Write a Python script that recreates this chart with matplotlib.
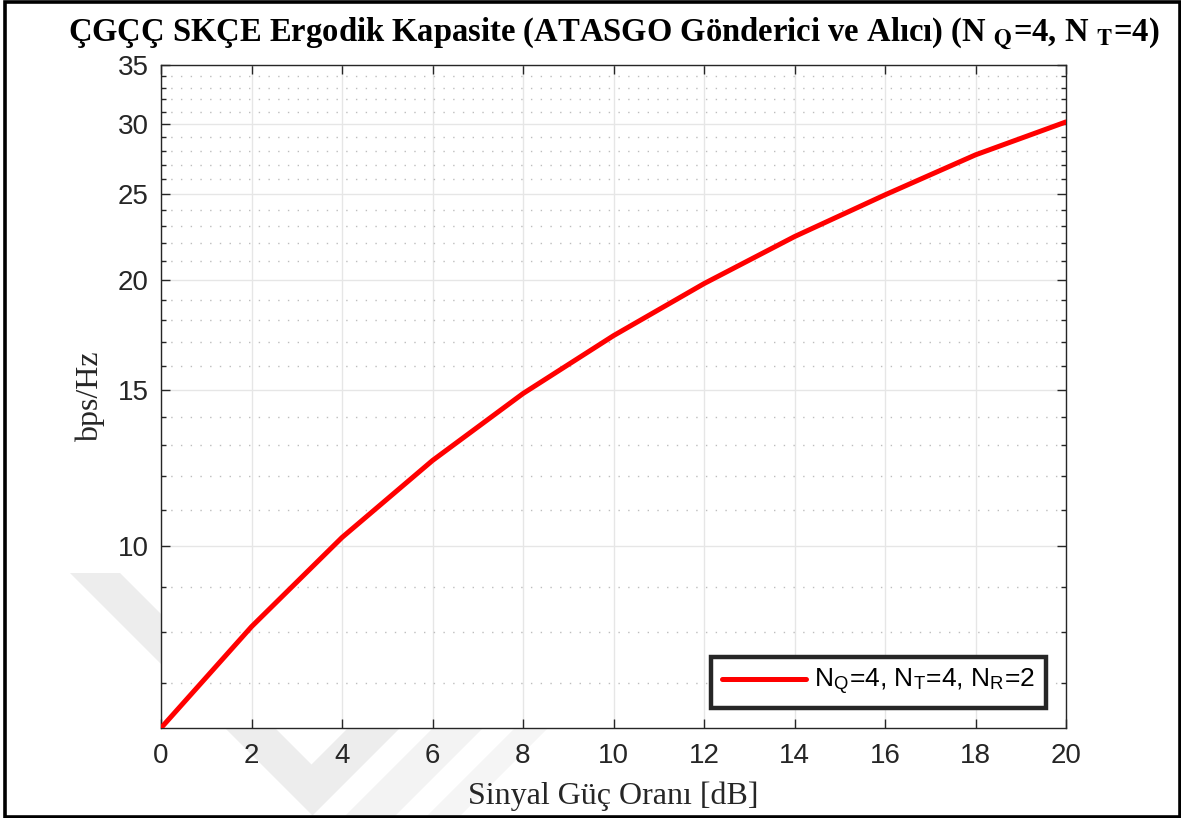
import numpy as np
import matplotlib
matplotlib.use("Agg")
import matplotlib.pyplot as plt
from matplotlib.patches import Polygon, Rectangle
from matplotlib.ticker import FixedLocator, NullFormatter, FixedFormatter

plt.rcParams['mathtext.fontset'] = 'stix'

# ergodic capacity vs SNR
snr_db = [0, 2, 4, 6, 8, 10, 12, 14, 16, 18, 20]
capacity = [6.23, 8.11, 10.23, 12.50, 14.88, 17.30, 19.81, 22.39, 24.96, 27.70, 30.18]

yticks_major = [10, 15, 20, 25, 30, 35]
yticks_minor = [7, 8, 9, 11, 12, 13, 14, 16, 17, 18, 19, 21, 22, 23, 24,
                26, 27, 28, 29, 31, 32, 33, 34]
xticks = list(range(0, 21, 2))

W, H = 1181, 818
fig = plt.figure(figsize=(W / 100, H / 100), dpi=100)
fig.patch.set_facecolor('white')


def px(x, y):
    return (x / W, 1 - y / H)


# faint watermark chevrons behind the axes
shapes = [
    ([(70, 573), (120, 573), (311.5, 764.5), (376, 700), (428, 700), (312.5, 815.5)], '#ededed'),
    ([(433, 728), (483, 728), (393, 818), (343, 818)], '#f3f3f3'),
    ([(515, 728), (548, 728), (458, 818), (425, 818)], '#f5f5f5'),
]
for pts, c in shapes:
    fig.patches.append(Polygon([px(*p) for p in pts], closed=True,
                               transform=fig.transFigure, facecolor=c,
                               edgecolor='none', zorder=-5))

ax = fig.add_axes([161 / W, 1 - 728 / H, (1066 - 161) / W, (728 - 65) / H])
ax.set_facecolor('white')

ax.semilogy(snr_db, capacity, color='#ff0000', lw=3.6, solid_capstyle='round',
            label=r'N$_\mathregular{Q}$=4, N$_\mathregular{T}$=4, N$_\mathregular{R}$=2',
            zorder=3)

ax.set_xlim(0, 20)
ax.set_ylim(capacity[0], 35)
ax.set_xticks(xticks)
ax.yaxis.set_major_locator(FixedLocator(yticks_major))
ax.yaxis.set_major_formatter(FixedFormatter([str(v) for v in yticks_major]))
ax.yaxis.set_minor_locator(FixedLocator(yticks_minor))
ax.yaxis.set_minor_formatter(NullFormatter())
ax.xaxis.set_minor_locator(FixedLocator([]))

dark = '#262626'
for s in ax.spines.values():
    s.set_color(dark)
    s.set_linewidth(1.0)
ax.tick_params(which='both', direction='in', top=True, right=True,
               colors=dark, width=1.0)
ax.tick_params(which='major', length=6.5)
ax.tick_params(which='minor', length=3.6)
ax.tick_params(axis='x', pad=11)
ax.tick_params(axis='y', pad=9)
for lab in ax.get_xticklabels() + ax.get_yticklabels():
    lab.set_fontfamily('Liberation Sans')
    lab.set_fontsize(20)
    lab.set_color(dark)

ax.grid(True, which='major', color='#e6e6e6', lw=1.0, ls='-')
ax.grid(True, which='minor', axis='y', color='#bdbdbd', lw=1.0, ls=(0, (1, 6)))
ax.set_axisbelow(True)

ax.set_xlabel('Sinyal Güç Oranı [dB]', fontfamily='Liberation Serif',
              fontsize=23, color=dark, labelpad=9)
ax.set_ylabel('bps/Hz', fontfamily='Liberation Serif', fontsize=23,
              color=dark, labelpad=9)

fig.text(613.5 / W, 1 - 41 / H,
         r'ÇGÇÇ SKÇE Ergodik Kapasite (ATASGO Gönderici ve Alıcı) '
         r'(N $_\mathbf{Q}$=4, N $_\mathbf{T}$=4)',
         ha='center', va='baseline', fontfamily='Liberation Serif',
         fontweight='bold', fontsize=23.5, color='black')

leg = ax.legend(loc='lower right', bbox_to_anchor=px(1046, 708),
                bbox_transform=fig.transFigure, borderaxespad=0,
                prop={'family': 'Liberation Sans', 'size': 19},
                handlelength=3.2, handletextpad=0.3, borderpad=0.4,
                fancybox=False, framealpha=1)
leg.get_frame().set_edgecolor(dark)
leg.get_frame().set_linewidth(3.2)

# outer frame
fig.patches.append(Rectangle(px(5, 816.5), (1179.5 - 5) / W, (816.5 - 1.5) / H,
                             transform=fig.transFigure, fill=False,
                             edgecolor='black', lw=2.6, zorder=10))

fig.savefig('out.png', dpi=100)
